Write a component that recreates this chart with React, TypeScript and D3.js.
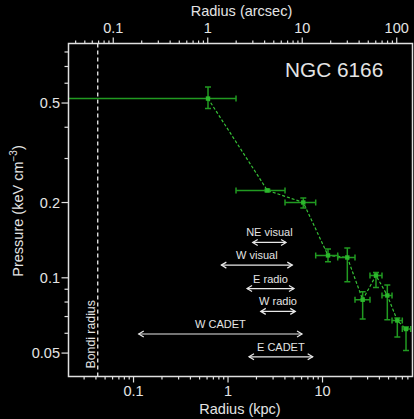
import React from "react";
import * as d3 from "d3";

// Pressure profile points (radius in kpc, pressure in keV cm^-3)
const radius = [0.614, 2.61, 6.26, 11.43, 18.3, 26.6, 36.8, 48.5, 61.9, 76.5];
const radiusLow = [0.01, 1.215, 4.01, 8.47, 14.48, 22.07, 31.8, 42.6, 54.4, 69.9];
const radiusHigh = [1.215, 4.01, 8.47, 14.48, 22.07, 31.8, 42.6, 54.4, 69.9, 85.8];
const pressure = [0.521, 0.2236, 0.2001, 0.1229, 0.1206, 0.0817, 0.1022, 0.085, 0.0675, 0.0624];
const pressureLow = [0.4755, 0.221, 0.19, 0.116, 0.0964, 0.0684, 0.0915, 0.068, 0.058, 0.0512];
const pressureHigh = [0.579, 0.2262, 0.2085, 0.1304, 0.1315, 0.088, 0.105, 0.0935, 0.069, 0.0635];

// Cavity / feature extents (kpc) and their vertical placement (pressure units)
const featureNames = ["NE visual", "W visual", "E radio", "W radio", "W CADET", "E CADET"];
const featureStart = [1.825, 0.85, 1.59, 2.22, 0.1135, 1.667];
const featureEnd = [4.11, 4.79, 4.99, 5.15, 6.07, 7.87];
const featureLevel = [0.1385, 0.1124, 0.0906, 0.0734, 0.0596, 0.0483];

const bondiRadius = 0.0418;
const kpcPerArcsec = 0.61;

const xDomain = [0.0205, 89.6];
const yDomain = [0.0403, 0.865];
const bottomTickLabels = [0.1, 1, 10];
const topTickLabels = [0.1, 1, 10, 100];
const leftTickLabels = [0.05, 0.1, 0.2, 0.5];

const W = 414;
const H = 419;
const M = { left: 68.5, right: 412.5, top: 43.5, bottom: 376.5 };
const TXT = "#e4e4e4";
const FONT = "'Liberation Sans', Arial, Helvetica, sans-serif";
const ERR = "#219a21";
const MARK = "#2cb82c";

function logTicks(lo: number, hi: number) {
  const out: { v: number; major: boolean }[] = [];
  for (let e = Math.floor(Math.log10(lo)); e <= Math.ceil(Math.log10(hi)); e++) {
    for (let m = 1; m <= 9; m++) {
      const v = m * Math.pow(10, e);
      if (v >= lo * 0.9999 && v <= hi * 1.0001) out.push({ v, major: m === 1 });
    }
  }
  return out;
}

function fmt(v: number) {
  return String(+v.toPrecision(3));
}

export default function App() {
  const x = d3.scaleLog().domain(xDomain).range([M.left, M.right]);
  const xa = d3.scaleLog().domain([xDomain[0] / kpcPerArcsec, xDomain[1] / kpcPerArcsec]).range([M.left, M.right]);
  const y = d3.scaleLog().domain(yDomain).range([M.bottom, M.top]);

  const bottomTicks = logTicks(xDomain[0], xDomain[1]);
  const topTicks = logTicks(xDomain[0] / kpcPerArcsec, xDomain[1] / kpcPerArcsec);
  const leftTicks = logTicks(yDomain[0], yDomain[1]).map((t) => ({
    v: t.v,
    major: leftTickLabels.some((l) => Math.abs(l - t.v) / l < 1e-6),
  }));

  const line = d3
    .line<number>()
    .x((_, i) => x(radius[i]))
    .y((d) => y(d));

  const cap = 3;

  return (
    <svg
      width={W}
      height={H}
      style={{ position: "absolute", left: 0, top: 0, background: "#000" }}
      fontFamily={FONT}
    >
      <rect x={0} y={0} width={W} height={H} fill="#000" />
      <defs>
        <clipPath id="plot">
          <rect x={M.left} y={M.top} width={M.right - M.left} height={M.bottom - M.top} />
        </clipPath>
      </defs>

      {/* Bondi radius */}
      <line
        x1={x(bondiRadius)}
        x2={x(bondiRadius)}
        y1={M.top}
        y2={M.bottom}
        stroke="#eee"
        strokeWidth={1.3}
        strokeDasharray="4,3"
      />
      <text
        transform={`translate(${x(bondiRadius) - 3},${M.bottom - 8}) rotate(-90)`}
        fill={TXT}
        fontSize={12.3}
      >
        Bondi radius
      </text>

      {/* Feature arrows */}
      {featureNames.map((name, i) => {
        const x1 = x(featureStart[i]);
        const x2 = x(featureEnd[i]);
        const yy = y(featureLevel[i]);
        const ah = 5;
        const aw = 3;
        return (
          <g key={name} stroke="#e8e8e8" strokeWidth={1.2} fill="none">
            <line x1={x1} x2={x2} y1={yy} y2={yy} />
            <polyline points={`${x1 + ah},${yy - aw} ${x1},${yy} ${x1 + ah},${yy + aw}`} />
            <polyline points={`${x2 - ah},${yy - aw} ${x2},${yy} ${x2 - ah},${yy + aw}`} />
            <text
              x={(x1 + x2) / 2}
              y={yy - 6}
              textAnchor="middle"
              fill={TXT}
              stroke="none"
              fontSize={11}
            >
              {name}
            </text>
          </g>
        );
      })}

      {/* Data */}
      <g clipPath="url(#plot)">
        <path d={line(pressure) || ""} fill="none" stroke="#36c036" strokeWidth={1.2} strokeDasharray="3,2" />
        {radius.map((r, i) => {
          const cx = x(r);
          const cy = y(pressure[i]);
          const xl = x(radiusLow[i]);
          const xh = x(radiusHigh[i]);
          const yl = y(pressureLow[i]);
          const yh = y(pressureHigh[i]);
          return (
            <g key={i} stroke={ERR} strokeWidth={1.5}>
              <line x1={xl} x2={xh} y1={cy} y2={cy} />
              <line x1={xl} x2={xl} y1={cy - cap} y2={cy + cap} />
              <line x1={xh} x2={xh} y1={cy - cap} y2={cy + cap} />
              <line x1={cx} x2={cx} y1={yl} y2={yh} />
              <line x1={cx - cap} x2={cx + cap} y1={yl} y2={yl} />
              <line x1={cx - cap} x2={cx + cap} y1={yh} y2={yh} />
              <rect x={cx - 2.2} y={cy - 2.2} width={4.4} height={4.4} fill={MARK} stroke="none" />
            </g>
          );
        })}
      </g>

      {/* Frame */}
      <rect
        x={M.left}
        y={M.top}
        width={M.right - M.left}
        height={M.bottom - M.top}
        fill="none"
        stroke="#e0e0e0"
        strokeWidth={1.5}
      />

      {/* Bottom axis */}
      {bottomTicks.map((t, i) => (
        <line key={"b" + i} x1={x(t.v)} x2={x(t.v)} y1={M.bottom} y2={M.bottom + (t.major ? 6 : 3)} stroke="#e0e0e0" strokeWidth={1.2} />
      ))}
      {bottomTickLabels.map((v) => (
        <text key={"bl" + v} x={x(v)} y={396} textAnchor="middle" fill={TXT} fontSize={14.5}>
          {fmt(v)}
        </text>
      ))}
      <text x={(M.left + M.right) / 2 - 0.5} y={414} textAnchor="middle" fill={TXT} fontSize={14.5}>
        Radius (kpc)
      </text>

      {/* Top axis */}
      {topTicks.map((t, i) => (
        <line key={"t" + i} x1={xa(t.v)} x2={xa(t.v)} y1={M.top} y2={M.top - (t.major ? 6 : 3)} stroke="#e0e0e0" strokeWidth={1.2} />
      ))}
      {topTickLabels.map((v) => (
        <text key={"tl" + v} x={xa(v)} y={33.3} textAnchor="middle" fill={TXT} fontSize={14.5}>
          {fmt(v)}
        </text>
      ))}
      <text x={241.5} y={15.7} textAnchor="middle" fill={TXT} fontSize={14.5}>
        Radius (arcsec)
      </text>

      {/* Left axis */}
      {leftTicks.map((t, i) => (
        <line key={"l" + i} x1={M.left} x2={M.left - (t.major ? 7 : 4)} y1={y(t.v)} y2={y(t.v)} stroke="#e0e0e0" strokeWidth={1.2} />
      ))}
      {leftTickLabels.map((v) => (
        <text key={"ll" + v} x={60} y={y(v)} dy="0.36em" textAnchor="end" fill={TXT} fontSize={14.5}>
          {fmt(v)}
        </text>
      ))}
      <text transform="translate(23,211) rotate(-90)" textAnchor="middle" fill={TXT} fontSize={14.5}>
        Pressure (keV cm
        <tspan dy={-6} fontSize={10}>−3</tspan>
        <tspan dy={6}>)</tspan>
      </text>

      {/* Title */}
      <text x={285} y={77.3} fill={TXT} fontSize={20.8}>
        NGC 6166
      </text>
    </svg>
  );
}
